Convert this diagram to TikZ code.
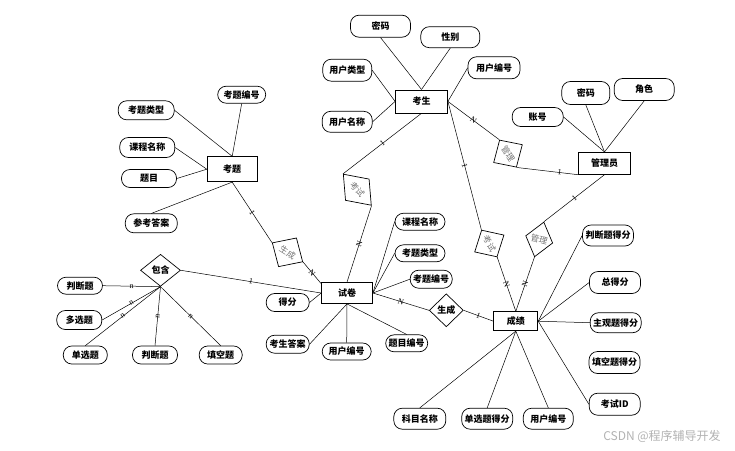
\documentclass[tikz,border=0pt]{standalone}
\usepackage{fontspec}
\setmainfont{Noto Sans CJK SC}
\newfontfamily\markfont{Liberation Serif}
\usetikzlibrary{shapes.geometric}
\begin{document}
\begin{tikzpicture}[x=1pt,y=-1pt,
  ent/.style={draw, line width=0.8pt, rectangle, inner sep=0pt, font=\fontsize{9}{10}\selectfont\bfseries},
  attr/.style={draw, line width=0.7pt, rectangle, rounded corners=8.5pt, inner sep=0pt, font=\fontsize{9}{10}\selectfont\bfseries},
  rel/.style={draw, line width=0.7pt, diamond, inner sep=0pt, font=\fontsize{9}{10}\selectfont\bfseries},
  relr/.style={draw, line width=0.7pt, diamond, inner sep=0pt, text=black!55, font=\fontsize{8.5}{9}\selectfont},
  lnk/.style={line width=0.5pt},
  mk/.style={sloped, inner sep=0pt, font=\markfont\fontsize{8}{8}\selectfont},
]
\useasboundingbox (0,0) rectangle (735,450);

% entities
\node[ent, minimum width=52pt, minimum height=23pt] (ks) at (421.5,101.4) {考生};
\node[ent, minimum width=52pt, minimum height=22pt] (gly) at (604.5,163.3) {管理员};
\node[ent, minimum width=50pt, minimum height=25pt] (kt) at (232.2,169.2) {考题};
\node[ent, minimum width=51pt, minimum height=21pt] (sj) at (347,293) {试卷};
\node[ent, minimum width=44pt, minimum height=19pt] (cj) at (515.8,321.2) {成绩};

% relationships
\node[relr, minimum width=42pt, minimum height=32pt, rotate=-48] (r1) at (357.3,189.7) {考试};
\node[relr, minimum width=32pt, minimum height=34pt, rotate=-58] (r2) at (508,153.6) {管理};
\node[relr, minimum width=31pt, minimum height=34pt, rotate=-60] (r3) at (489.3,243.5) {考试};
\node[relr, minimum width=28pt, minimum height=36pt, rotate=-15] (r4) at (539.2,239.4) {管理};
\node[relr, minimum width=36pt, minimum height=34pt, rotate=-32] (r5) at (287.5,252.3) {生成};
\node[rel, minimum width=40pt, minimum height=32pt] (bh) at (160.5,270.3) {包含};
\node[rel, minimum width=34pt, minimum height=33pt] (sc) at (446.3,310.3) {生成};

% attributes of 考生
\node[attr, minimum width=60pt, minimum height=22pt] (ksmm) at (380.5,26.2) {密码};
\node[attr, minimum width=59pt, minimum height=21pt] (ksxb) at (450.3,37.2) {性别};
\node[attr, minimum width=49pt, minimum height=22pt] (kslx) at (347.3,70.2) {用户类型};
\node[attr, minimum width=52pt, minimum height=22pt] (ksbh) at (494,67.8) {用户编号};
\node[attr, minimum width=50pt, minimum height=21pt] (ksmc) at (347.2,121.8) {用户名称};
% attributes of 管理员
\node[attr, minimum width=51pt, minimum height=19pt] (gzh) at (537.7,117) {账号};
\node[attr, minimum width=48pt, minimum height=23pt] (gmm) at (585.8,93) {密码};
\node[attr, minimum width=60pt, minimum height=22pt] (gjs) at (644.2,89.5) {角色};
% attributes of 考题
\node[attr, minimum width=48pt, minimum height=17pt] (ktbh) at (241.7,94.7) {考题编号};
\node[attr, minimum width=56pt, minimum height=19pt] (ktlx) at (146.2,110.3) {考题类型};
\node[attr, minimum width=55pt, minimum height=20pt] (ktkc) at (147.3,147.5) {课程名称};
\node[attr, minimum width=55pt, minimum height=18pt] (kttm) at (149,178.5) {题目};
\node[attr, minimum width=52pt, minimum height=19pt] (ktda) at (151.3,223.3) {参考答案};
% 包含 group
\node[attr, minimum width=45pt, minimum height=17pt] (pd1) at (80,285.7) {判断题};
\node[attr, minimum width=45pt, minimum height=19pt] (dx) at (79.3,320) {多选题};
\node[attr, minimum width=44pt, minimum height=18pt] (dan) at (85.3,355) {单选题};
\node[attr, minimum width=45pt, minimum height=18pt] (pd2) at (155,355) {判断题};
\node[attr, minimum width=43pt, minimum height=18pt] (tk) at (220.7,355) {填空题};
% attributes of 试卷
\node[attr, minimum width=50pt, minimum height=17pt] (sjkc) at (420,221.7) {课程名称};
\node[attr, minimum width=50pt, minimum height=17pt] (sjlx) at (420,253.3) {考题类型};
\node[attr, minimum width=42pt, minimum height=18pt] (sjbh) at (431.2,279.2) {考题编号};
\node[attr, minimum width=43pt, minimum height=18pt] (sjdf) at (287.7,302.5) {得分};
\node[attr, minimum width=43pt, minimum height=18pt] (sjda) at (287.7,344.2) {考生答案};
\node[attr, minimum width=49pt, minimum height=17pt] (sjyh) at (346.7,351.5) {用户编号};
\node[attr, minimum width=42pt, minimum height=17pt] (sjtm) at (406.7,343.3) {题目编号};
% attributes of 成绩
\node[attr, minimum width=51pt, minimum height=21pt] (cjpd) at (608,235.5) {判断题得分};
\node[attr, minimum width=51pt, minimum height=22pt] (cjz) at (615,282.5) {总得分};
\node[attr, minimum width=51pt, minimum height=20pt] (cjzg) at (615.7,322.7) {主观题得分};
\node[attr, minimum width=51pt, minimum height=22pt] (cjtk) at (614.5,362.5) {填空题得分};
\node[attr, minimum width=51pt, minimum height=22pt] (cjid) at (614.7,404.2) {考试ID};
\node[attr, minimum width=52pt, minimum height=21pt] (cjkm) at (419.8,418.7) {科目名称};
\node[attr, minimum width=51pt, minimum height=21pt] (cjdx) at (487.2,418.7) {单选题得分};
\node[attr, minimum width=50pt, minimum height=21pt] (cjyh) at (548.3,418.7) {用户编号};

% relationship links
\draw[lnk] (ks.south) -- node[mk]{1} (r1.west);
\draw[lnk] (r1.east) -- node[mk]{N} (sj.north);
\draw[lnk] (ks.east) -- node[mk]{N} (r2.west);
\draw[lnk] (r2.east) -- node[mk,pos=0.7]{1} (gly.south west);
\draw[lnk] (ks.east) -- node[mk]{1} (r3.west);
\draw[lnk] (r3.east) -- node[mk]{N} (cj.north);
\draw[lnk] (gly.south) -- node[mk]{1} (r4.north);
\draw[lnk] (r4.south) -- node[mk]{N} (cj.north);
\draw[lnk] (kt.south) -- node[mk]{1} (r5.west);
\draw[lnk] (r5.east) -- node[mk]{N} (sj.160);
\draw[lnk] (bh.east) -- node[mk]{1} (sj.west);
\draw[lnk] (sj.east) -- node[mk]{N} (sc.west);
\draw[lnk] (sc.east) -- node[mk]{1} (cj.west);
\draw[lnk] (bh.south) -- node[mk]{n} (pd1.east);
\draw[lnk] (bh.south) -- node[mk]{n} (dx.east);
\draw[lnk] (bh.south) -- node[mk]{n} (dan.north);
\draw[lnk] (bh.south) -- node[mk]{n} (pd2.north);
\draw[lnk] (bh.south) -- node[mk]{n} (tk.north);

% attribute links
\draw[lnk] (ksmm.south) -- (ks.north);
\draw[lnk] (ksxb.south) -- (ks.north);
\draw[lnk] (kslx.east) -- (ks.west);
\draw[lnk] (ksmc.east) -- (ks.west);
\draw[lnk] (ksbh.west) -- (ks.east);
\draw[lnk] (gzh.east) -- (gly.north);
\draw[lnk] (gmm.south) -- (gly.north);
\draw[lnk] (gjs.south) -- (gly.north);
\draw[lnk] (ktbh.south) -- (kt.north);
\draw[lnk] (ktlx.east) -- (kt.north);
\draw[lnk] (ktkc.east) -- (kt.west);
\draw[lnk] (kttm.east) -- (kt.west);
\draw[lnk] (ktda.north) -- (kt.south);
\draw[lnk] (sjkc.west) -- (sj.east);
\draw[lnk] (sjlx.west) -- (sj.east);
\draw[lnk] (sjbh.west) -- (sj.east);
\draw[lnk] (sjdf.east) -- (sj.west);
\draw[lnk] (sjda.east) -- (sj.south);
\draw[lnk] (sjyh.north) -- (sj.south);
\draw[lnk] (sjtm.north) -- (sj.south);
\draw[lnk] (cj.east) -- (cjpd.west);
\draw[lnk] (cj.east) -- (cjz.west);
\draw[lnk] (cj.east) -- (cjzg.west);
\draw[lnk] (cj.east) -- (cjid.west);
\draw[lnk] (cj.south) -- (cjkm.north);
\draw[lnk] (cj.south) -- (cjdx.north);
\draw[lnk] (cj.south) -- (cjyh.north);

% watermark
\node[text=black!30, font=\fontsize{12}{13}\selectfont] (wm) at (662,436) {CSDN @程序辅导开发};
\end{tikzpicture}
\end{document}
